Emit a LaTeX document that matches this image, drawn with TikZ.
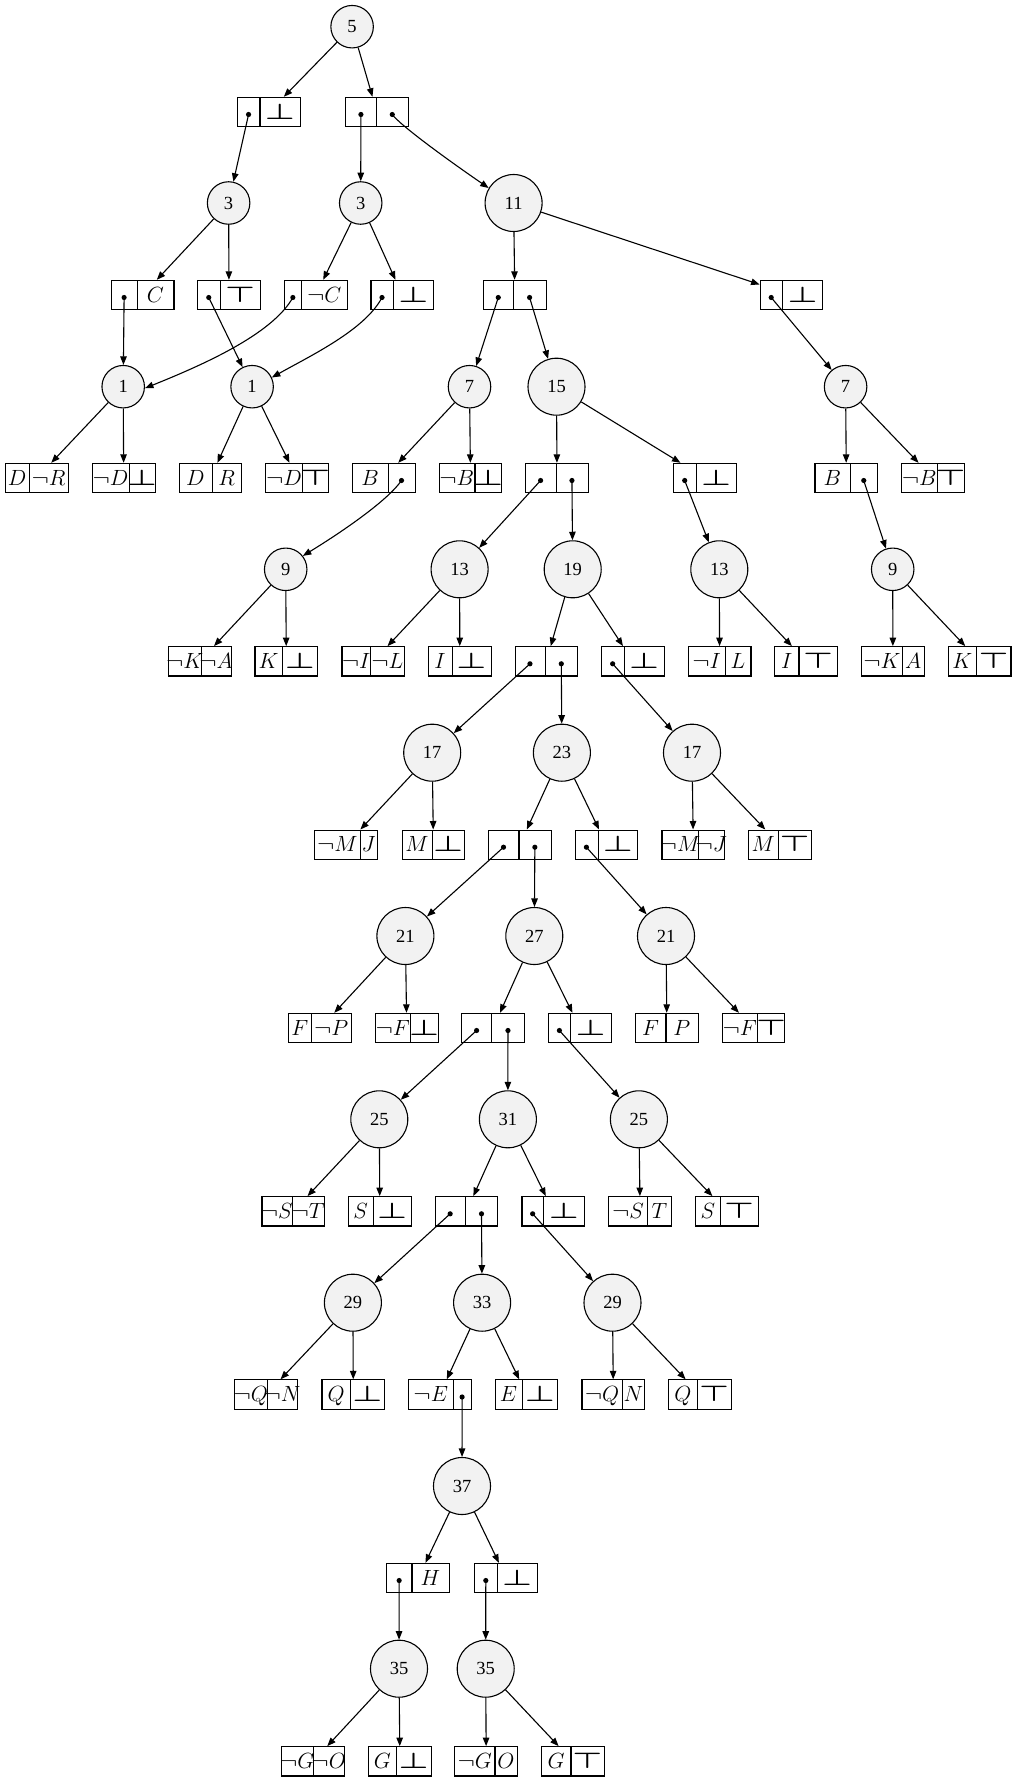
\RequirePackage{fix-cm}
\documentclass[tikz,border=0pt]{standalone}
\usepackage{fontspec}
\newfontfamily\numfont{Liberation Serif}
\usetikzlibrary{arrows.meta}
\definecolor{cfill}{HTML}{F2F2F2}
\tikzset{
  cnode/.style={circle, draw=black, fill=cfill, line width=1.1pt, inner sep=0pt, minimum size=42.5pt, font=\numfont\fontsize{18.5}{20}\selectfont},
  cbig/.style={cnode, minimum size=57pt},
  recbox/.style={rectangle, draw=black, line width=1.1pt, inner sep=0pt, minimum width=62.7pt, minimum height=29.3pt},
  rectext/.style={inner sep=0pt, anchor=base, font=\fontsize{22}{26}\selectfont},
  arr/.style={-{Triangle[length=8.5pt,width=6.5pt]}, line width=1.1pt},
}
\newcommand{\Bot}{\mathord{\mbox{\scalebox{1.5}[1]{\boldmath$\bot$}}}}
\newcommand{\Top}{\mathord{\mbox{\scalebox{1.5}[1]{\boldmath$\top$}}}}
\newcommand{\Neg}{\mathord{\mbox{\scalebox{1.18}[1]{$\neg$}}}}
\newcommand{\mkrec}[4]{%
  \node[recbox, anchor=west] (#1) at (#2,#4) {};
  \draw[line width=1.1pt] (#3,#4-14.65) -- (#3,#4+14.65);
  \coordinate (#1-l) at ({(#2+#3)/2},{#4+2.5});
  \coordinate (#1-r) at ({(#3+#2+62.7)/2},{#4+2.5});
  \coordinate (#1-lb) at ({(#2+#3)/2},{#4+7.2});
  \coordinate (#1-rb) at ({(#3+#2+62.7)/2},{#4+7.2});
}
\newcommand{\rtxt}[2]{\node[rectext] (#1t) at (#1b) {$#2$};}
\newcommand{\rdot}[1]{\fill (#1) circle (2.6pt);}
\begin{document}
\begin{tikzpicture}[x=1pt,y=-1pt]
\useasboundingbox (0,0) rectangle (1016,1782);
% circles
\node[cnode] (n5) at (352.1,26.7) {5};
\node[cnode] (n3a) at (228.6,203) {3};
\node[cnode] (n3b) at (360.7,203) {3};
\node[cbig] (n11) at (513.6,203) {11};
\node[cnode] (n1a) at (123.2,386.7) {1};
\node[cnode] (n1b) at (252.1,386.7) {1};
\node[cnode] (n7a) at (469.5,386.7) {7};
\node[cbig] (n15) at (556.5,386.7) {15};
\node[cnode] (n7b) at (845.6,386.7) {7};
\node[cnode] (n9a) at (285.7,569.3) {9};
\node[cbig] (n13a) at (459.6,569.3) {13};
\node[cbig] (n19) at (572.7,569.3) {19};
\node[cbig] (n13b) at (719.3,569.3) {13};
\node[cnode] (n9b) at (892.7,569.3) {9};
\node[cbig] (n17a) at (432.2,752.7) {17};
\node[cbig] (n23) at (561.9,752.7) {23};
\node[cbig] (n17b) at (692,752.7) {17};
\node[cbig] (n21a) at (405.4,936) {21};
\node[cbig] (n27) at (534.3,936) {27};
\node[cbig] (n21b) at (666,936) {21};
\node[cbig] (n25a) at (379.3,1119.3) {25};
\node[cbig] (n31) at (507.9,1119.3) {31};
\node[cbig] (n25b) at (638.9,1119.3) {25};
\node[cbig] (n29a) at (352.9,1302.7) {29};
\node[cbig] (n33) at (482.1,1302.7) {33};
\node[cbig] (n29b) at (612.5,1302.7) {29};
\node[cbig] (n37) at (462,1486) {37};
\node[cbig] (n35a) at (399,1668.7) {35};
\node[cbig] (n35b) at (485.7,1668.7) {35};
% records
\mkrec{r1a}{237.1}{260}{112}
\mkrec{r1b}{345}{376.8}{112}
\mkrec{r3a}{110.7}{137.5}{295}
\mkrec{r3b}{197.1}{220.4}{295}
\mkrec{r3c}{283.9}{301.8}{295}
\mkrec{r3d}{370.4}{393.6}{295}
\mkrec{r3e}{482.9}{513.6}{295}
\mkrec{r3f}{759.6}{782.8}{295}
\mkrec{r5a}{5}{29.3}{478}
\mkrec{r5b}{91.8}{129.3}{478}
\mkrec{r5c}{178.6}{212.1}{478}
\mkrec{r5d}{265}{302.9}{478}
\mkrec{r5e}{352.1}{388.2}{478}
\mkrec{r5f}{438.6}{475}{478}
\mkrec{r5g}{525.1}{556.1}{478}
\mkrec{r5h}{673.3}{696.1}{478}
\mkrec{r5i}{814.4}{850.4}{478}
\mkrec{r5j}{901.2}{937.4}{478}
\mkrec{r7a}{167.9}{201.4}{661.3}
\mkrec{r7b}{254.4}{282.9}{661.3}
\mkrec{r7c}{341.4}{370.7}{661.3}
\mkrec{r7d}{427.9}{452.1}{661.3}
\mkrec{r7e}{514.5}{545.4}{661.3}
\mkrec{r7f}{601}{624.3}{661.3}
\mkrec{r7g}{687.7}{725.7}{661.3}
\mkrec{r7h}{774.3}{799}{661.3}
\mkrec{r7i}{861}{902.7}{661.3}
\mkrec{r7j}{947.7}{976.7}{661.3}
\mkrec{r9a}{314.3}{360.2}{844.7}
\mkrec{r9b}{401.5}{432.2}{844.7}
\mkrec{r9c}{488}{519}{844.7}
\mkrec{r9d}{574.5}{598.3}{844.7}
\mkrec{r9e}{661.4}{698.5}{844.7}
\mkrec{r9f}{747.9}{778.5}{844.7}
\mkrec{r11a}{288.3}{311.2}{1028}
\mkrec{r11b}{374.8}{410.7}{1028}
\mkrec{r11c}{461.3}{491.9}{1028}
\mkrec{r11d}{548.1}{570.7}{1028}
\mkrec{r11e}{635}{666}{1028}
\mkrec{r11f}{721.5}{757.8}{1028}
\mkrec{r13a}{261.4}{292.1}{1211.3}
\mkrec{r13b}{347.9}{373.6}{1211.3}
\mkrec{r13c}{434.6}{465.7}{1211.3}
\mkrec{r13d}{521.4}{543.9}{1211.3}
\mkrec{r13e}{608.2}{647.9}{1211.3}
\mkrec{r13f}{695}{720.7}{1211.3}
\mkrec{r15a}{234.3}{267.1}{1394.5}
\mkrec{r15b}{321.4}{350.7}{1394.5}
\mkrec{r15c}{407.9}{453.6}{1394.5}
\mkrec{r15d}{494.6}{522.5}{1394.5}
\mkrec{r15e}{581.4}{622.5}{1394.5}
\mkrec{r15f}{668.2}{697.5}{1394.5}
\mkrec{r17a}{386.3}{412}{1578}
\mkrec{r17b}{474.3}{497.3}{1578}
\mkrec{r19a}{281.3}{313.3}{1761.3}
\mkrec{r19b}{368}{396.7}{1761.3}
\mkrec{r19c}{454.3}{495}{1761.3}
\mkrec{r19d}{541}{571}{1761.3}
% record texts
\rtxt{r1a-r}{\Bot}
\rtxt{r3a-r}{C}
\rtxt{r3b-r}{\Top}
\rtxt{r3c-r}{\Neg C}
\rtxt{r3d-r}{\Bot}
\rtxt{r3f-r}{\Bot}
\rtxt{r5a-l}{D}\rtxt{r5a-r}{\Neg R}
\rtxt{r5b-l}{\Neg D}\rtxt{r5b-r}{\Bot}
\rtxt{r5c-l}{D}\rtxt{r5c-r}{R}
\rtxt{r5d-l}{\Neg D}\rtxt{r5d-r}{\Top}
\rtxt{r5e-l}{B}
\rtxt{r5f-l}{\Neg B}\rtxt{r5f-r}{\Bot}
\rtxt{r5h-r}{\Bot}
\rtxt{r5i-l}{B}
\rtxt{r5j-l}{\Neg B}\rtxt{r5j-r}{\Top}
\rtxt{r7a-l}{\Neg K}\rtxt{r7a-r}{\Neg A}
\rtxt{r7b-l}{K}\rtxt{r7b-r}{\Bot}
\rtxt{r7c-l}{\Neg I}\rtxt{r7c-r}{\Neg L}
\rtxt{r7d-l}{I}\rtxt{r7d-r}{\Bot}
\rtxt{r7f-r}{\Bot}
\rtxt{r7g-l}{\Neg I}\rtxt{r7g-r}{L}
\rtxt{r7h-l}{I}\rtxt{r7h-r}{\Top}
\rtxt{r7i-l}{\Neg K}\rtxt{r7i-r}{A}
\rtxt{r7j-l}{K}\rtxt{r7j-r}{\Top}
\rtxt{r9a-l}{\Neg M}\rtxt{r9a-r}{J}
\rtxt{r9b-l}{M}\rtxt{r9b-r}{\Bot}
\rtxt{r9d-r}{\Bot}
\rtxt{r9e-l}{\Neg M}\rtxt{r9e-r}{\Neg J}
\rtxt{r9f-l}{M}\rtxt{r9f-r}{\Top}
\rtxt{r11a-l}{F}\rtxt{r11a-r}{\Neg P}
\rtxt{r11b-l}{\Neg F}\rtxt{r11b-r}{\Bot}
\rtxt{r11d-r}{\Bot}
\rtxt{r11e-l}{F}\rtxt{r11e-r}{P}
\rtxt{r11f-l}{\Neg F}\rtxt{r11f-r}{\Top}
\rtxt{r13a-l}{\Neg S}\rtxt{r13a-r}{\Neg T}
\rtxt{r13b-l}{S}\rtxt{r13b-r}{\Bot}
\rtxt{r13d-r}{\Bot}
\rtxt{r13e-l}{\Neg S}\rtxt{r13e-r}{T}
\rtxt{r13f-l}{S}\rtxt{r13f-r}{\Top}
\rtxt{r15a-l}{\Neg Q}\rtxt{r15a-r}{\Neg N}
\rtxt{r15b-l}{Q}\rtxt{r15b-r}{\Bot}
\rtxt{r15c-l}{\Neg E}
\rtxt{r15d-l}{E}\rtxt{r15d-r}{\Bot}
\rtxt{r15e-l}{\Neg Q}\rtxt{r15e-r}{N}
\rtxt{r15f-l}{Q}\rtxt{r15f-r}{\Top}
\rtxt{r17a-r}{H}
\rtxt{r17b-r}{\Bot}
\rtxt{r19a-l}{\Neg G}\rtxt{r19a-r}{\Neg O}
\rtxt{r19b-l}{G}\rtxt{r19b-r}{\Bot}
\rtxt{r19c-l}{\Neg G}\rtxt{r19c-r}{O}
\rtxt{r19d-l}{G}\rtxt{r19d-r}{\Top}
% edges circle -> record
\draw[arr] (n5) -- (r1a); \draw[arr] (n5) -- (r1b);
\draw[arr] (n3a) -- (r3a); \draw[arr] (n3a) -- (r3b);
\draw[arr] (n3b) -- (r3c); \draw[arr] (n3b) -- (r3d);
\draw[arr] (n11) -- (r3e); \draw[arr] (n11) -- (r3f);
\draw[arr] (n1a) -- (r5a); \draw[arr] (n1a) -- (r5b);
\draw[arr] (n1b) -- (r5c); \draw[arr] (n1b) -- (r5d);
\draw[arr] (n7a) -- (r5e); \draw[arr] (n7a) -- (r5f);
\draw[arr] (n15) -- (r5g); \draw[arr] (n15) -- (r5h);
\draw[arr] (n7b) -- (r5i); \draw[arr] (n7b) -- (r5j);
\draw[arr] (n9a) -- (r7a); \draw[arr] (n9a) -- (r7b);
\draw[arr] (n13a) -- (r7c); \draw[arr] (n13a) -- (r7d);
\draw[arr] (n19) -- (r7e); \draw[arr] (n19) -- (r7f);
\draw[arr] (n13b) -- (r7g); \draw[arr] (n13b) -- (r7h);
\draw[arr] (n9b) -- (r7i); \draw[arr] (n9b) -- (r7j);
\draw[arr] (n17a) -- (r9a); \draw[arr] (n17a) -- (r9b);
\draw[arr] (n23) -- (r9c); \draw[arr] (n23) -- (r9d);
\draw[arr] (n17b) -- (r9e); \draw[arr] (n17b) -- (r9f);
\draw[arr] (n21a) -- (r11a); \draw[arr] (n21a) -- (r11b);
\draw[arr] (n27) -- (r11c); \draw[arr] (n27) -- (r11d);
\draw[arr] (n21b) -- (r11e); \draw[arr] (n21b) -- (r11f);
\draw[arr] (n25a) -- (r13a); \draw[arr] (n25a) -- (r13b);
\draw[arr] (n31) -- (r13c); \draw[arr] (n31) -- (r13d);
\draw[arr] (n25b) -- (r13e); \draw[arr] (n25b) -- (r13f);
\draw[arr] (n29a) -- (r15a); \draw[arr] (n29a) -- (r15b);
\draw[arr] (n33) -- (r15c); \draw[arr] (n33) -- (r15d);
\draw[arr] (n29b) -- (r15e); \draw[arr] (n29b) -- (r15f);
\draw[arr] (n37) -- (r17a); \draw[arr] (n37) -- (r17b);
\draw[arr] (n35a) -- (r19a); \draw[arr] (n35a) -- (r19b);
\draw[arr] (n35b) -- (r19c); \draw[arr] (n35b) -- (r19d);
% edges dot -> circle
\draw[arr] (r1a-l) -- (n3a);
\draw[arr] (r1b-l) -- (n3b);
\draw[arr] (r1b-r) .. controls (400,125) and (445,158) .. (n11.149);
\draw[arr] (r3a-l) -- (n1a);
\draw[arr] (r3b-l) -- (n1b);
\draw[arr] (r3c-l) .. controls (272,335) and (200,366) .. (n1a.-4);
\draw[arr] (r3d-l) .. controls (365,330) and (310,356) .. (n1b.25);
\draw[arr] (r3e-l) -- (n7a);
\draw[arr] (r3e-r) -- (n15);
\draw[arr] (r3f-l) -- (n7b);
\draw[arr] (r5e-r) .. controls (388,500) and (345,530) .. (n9a.38);
\draw[arr] (r5g-l) -- (n13a);
\draw[arr] (r5g-r) -- (n19);
\draw[arr] (r5h-l) -- (n13b);
\draw[arr] (r5i-r) -- (n9b);
\draw[arr] (r7e-l) -- (n17a);
\draw[arr] (r7e-r) -- (n23);
\draw[arr] (r7f-l) -- (n17b);
\draw[arr] (r9c-l) -- (n21a);
\draw[arr] (r9c-r) -- (n27);
\draw[arr] (r9d-l) -- (n21b);
\draw[arr] (r11c-l) -- (n25a);
\draw[arr] (r11c-r) -- (n31);
\draw[arr] (r11d-l) -- (n25b);
\draw[arr] (r13c-l) -- (n29a);
\draw[arr] (r13c-r) -- (n33);
\draw[arr] (r13d-l) -- (n29b);
\draw[arr] (r15c-r) -- (n37);
\draw[arr] (r17a-l) -- (n35a);
\draw[arr] (r17b-l) -- (n35b);
% dots
\rdot{r1a-l}
\rdot{r1b-l}\rdot{r1b-r}
\rdot{r3a-l}\rdot{r3b-l}\rdot{r3c-l}\rdot{r3d-l}
\rdot{r3e-l}\rdot{r3e-r}\rdot{r3f-l}
\rdot{r5e-r}\rdot{r5g-l}\rdot{r5g-r}\rdot{r5h-l}\rdot{r5i-r}
\rdot{r7e-l}\rdot{r7e-r}\rdot{r7f-l}
\rdot{r9c-l}\rdot{r9c-r}\rdot{r9d-l}
\rdot{r11c-l}\rdot{r11c-r}\rdot{r11d-l}
\rdot{r13c-l}\rdot{r13c-r}\rdot{r13d-l}
\rdot{r15c-r}
\rdot{r17a-l}\rdot{r17b-l}
\end{tikzpicture}
\end{document}
